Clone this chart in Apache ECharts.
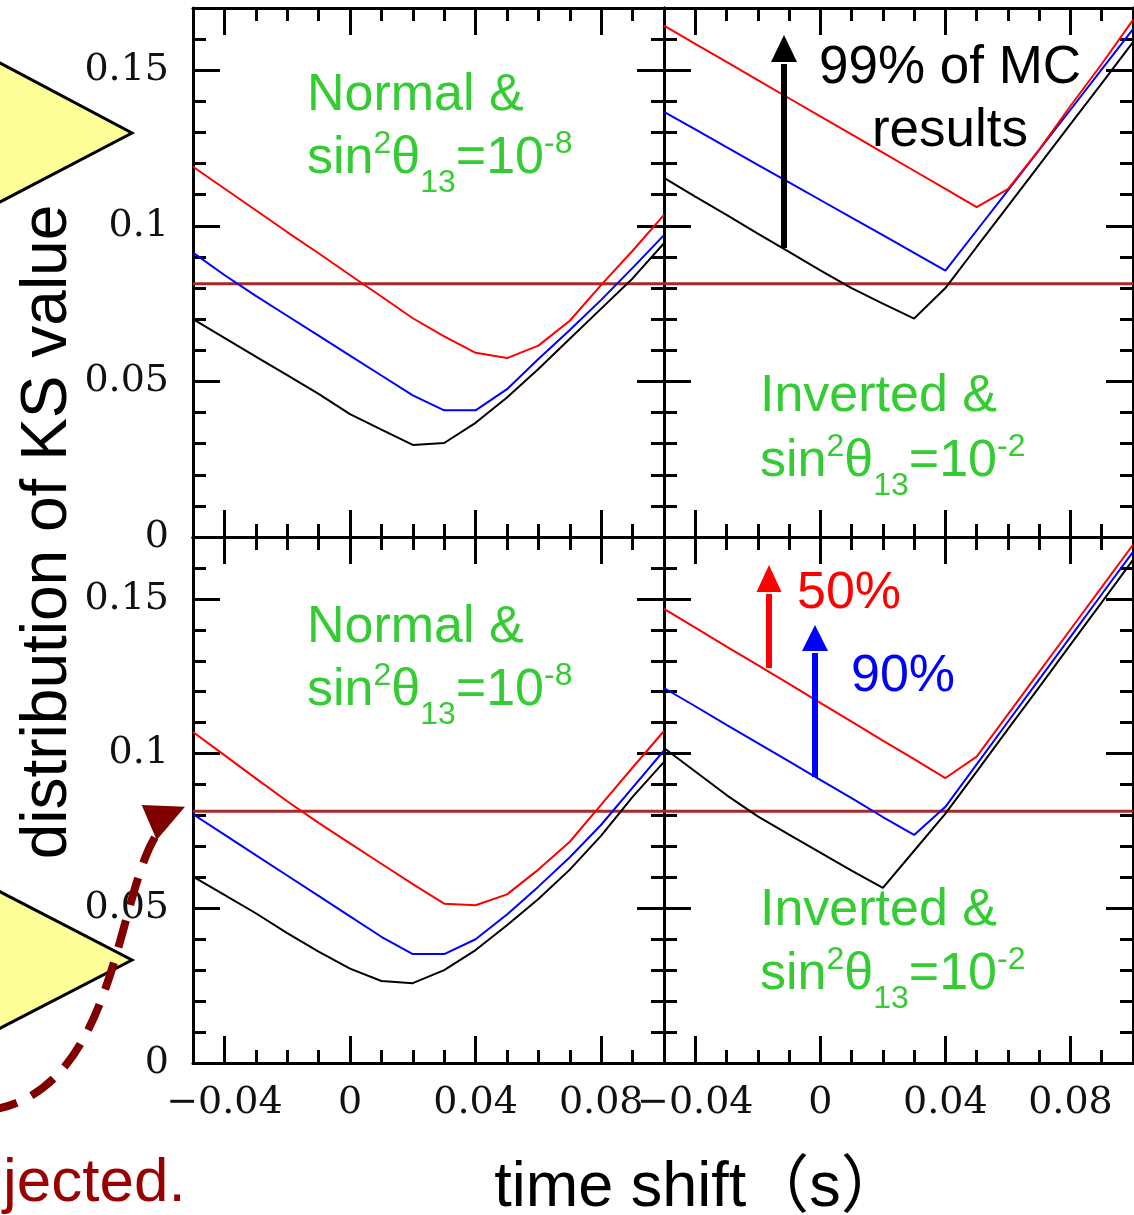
<!DOCTYPE html>
<html><head><meta charset="utf-8">
<script src="https://cdn.jsdelivr.net/npm/echarts@6/dist/echarts.min.js"></script>
<style>html,body{margin:0;padding:0;background:#fff}#c{width:1134px;height:1215px}</style>
</head><body><div id="c"></div><script>
// ---- data ----
const timeShift = [-0.05,-0.04,-0.03,-0.02,-0.01,0,0.01,0.02,0.03,0.04,0.05,0.06,0.07,0.08,0.09,0.1];
// top-left: Normal & sin^2θ13=1e-8
const tlRed   = [0.119,0.112,0.105,0.098,0.0912,0.0842,0.0773,0.0703,0.0645,0.0592,0.0575,0.0615,0.0695,0.081,0.092,0.1035];
const tlBlue  = [0.0914,0.0842,0.0775,0.0711,0.0647,0.0583,0.0519,0.0455,0.0407,0.0407,0.0475,0.0572,0.0665,0.0762,0.0865,0.097];
const tlBlack = [0.070,0.064,0.058,0.052,0.046,0.0395,0.0345,0.0296,0.0302,0.0367,0.0448,0.054,0.0637,0.0734,0.0831,0.0944];
// top-right: Inverted & sin^2θ13=1e-2
const trRed   = [0.1643,0.1585,0.1527,0.1468,0.141,0.1352,0.1294,0.1235,0.1177,0.1119,0.106,0.1118,0.1245,0.1385,0.152,0.1662];
const trBlue  = [0.1366,0.131,0.1253,0.1196,0.114,0.1083,0.1026,0.097,0.0913,0.0856,0.0985,0.1114,0.1244,0.1373,0.1503,0.1632];
const trBlack = [0.1154,0.1094,0.1035,0.0975,0.0916,0.0857,0.080,0.075,0.0702,0.080,0.0932,0.1063,0.1195,0.1327,0.1458,0.159];
// bottom-left
const blRed   = [0.107,0.0995,0.092,0.0846,0.0776,0.071,0.0644,0.0578,0.0515,0.051,0.0545,0.0625,0.0715,0.0835,0.0955,0.1073];
const blBlue  = [0.0804,0.0738,0.0672,0.0606,0.054,0.0474,0.0408,0.0352,0.0352,0.040,0.048,0.057,0.0665,0.077,0.089,0.101];
const blBlack = [0.0602,0.0543,0.0484,0.042,0.036,0.0305,0.0265,0.0258,0.030,0.0365,0.0445,0.053,0.0625,0.0735,0.086,0.0973];
// bottom-right
const brRed   = [0.1468,0.1407,0.1346,0.1286,0.1225,0.1164,0.1103,0.1042,0.0982,0.0921,0.099,0.1127,0.1264,0.1401,0.1538,0.1675];
const brBlue  = [0.1212,0.1153,0.1093,0.1034,0.0975,0.0915,0.0856,0.0795,0.0737,0.0828,0.0965,0.1103,0.124,0.1377,0.1515,0.1652];
const brBlack = [0.1018,0.0942,0.0866,0.0797,0.0738,0.068,0.0622,0.0566,0.0686,0.0806,0.0942,0.1079,0.1215,0.1352,0.1489,0.1626];
const threshold = 0.0814;
const xMajorTicks = [-0.04,0,0.04,0.08];
const xMinorTicks = [-0.03,-0.02,-0.01,0.01,0.02,0.03,0.05,0.06,0.07,0.09];
const yMajorTicks = [0.05,0.1,0.15];
const yLabelValues = [0,0.05,0.1,0.15];
const yMinorTicks = [0.01,0.02,0.03,0.04,0.06,0.07,0.08,0.09,0.11,0.12,0.13,0.14,0.16];
const seriesNames = ['50%','90%','99%'];
const seriesColors = ['#ff0000','#0000ff','#000000'];

// ---- layout ----
const panels = [
  {left:193, top:8,   width:471, height:529, data:[tlRed,tlBlue,tlBlack], xLab:false, yLab:true},
  {left:664, top:8,   width:469, height:529, data:[trRed,trBlue,trBlack], xLab:false, yLab:false},
  {left:193, top:537, width:471, height:526, data:[blRed,blBlue,blBlack], xLab:true,  yLab:true},
  {left:664, top:537, width:469, height:526, data:[brRed,brBlue,brBlack], xLab:true,  yLab:false}
];
const MAJ = 27, MIN = 13;
const tickStyle = {color:'#000', width:3};
const labelFont = {fontFamily:'DejaVu Serif', fontSize:38, color:'#111'};
const fmtX = v => (v < 0 ? '\u2212' + String(Math.abs(v)) : String(v));

const grid = [], xAxis = [], yAxis = [], series = [];
panels.forEach((p, k) => {
  grid.push({left:p.left, top:p.top, width:p.width, height:p.height, containLabel:false});
  const xb = {type:'value', gridIndex:k, min:-0.05, max:0.1, splitLine:{show:false}};
  const yb = {type:'value', gridIndex:k, min:0, max:0.17, splitLine:{show:false}};
  const line = show => ({show:show, onZero:false, lineStyle:{color:'#000', width:3}});
  xAxis.push(Object.assign({}, xb, {position:'bottom', axisLine:line(true),
    axisTick:{show:true, inside:true, length:MAJ, customValues:xMajorTicks, lineStyle:tickStyle},
    axisLabel:Object.assign({show:p.xLab, customValues:xMajorTicks, formatter:fmtX, margin:21}, labelFont)}));
  xAxis.push(Object.assign({}, xb, {position:'bottom', axisLine:line(false),
    axisTick:{show:true, inside:true, length:MIN, customValues:xMinorTicks, lineStyle:tickStyle}, axisLabel:{show:false}}));
  xAxis.push(Object.assign({}, xb, {position:'top', axisLine:line(true),
    axisTick:{show:true, inside:true, length:MAJ, customValues:xMajorTicks, lineStyle:tickStyle}, axisLabel:{show:false}}));
  xAxis.push(Object.assign({}, xb, {position:'top', axisLine:line(false),
    axisTick:{show:true, inside:true, length:MIN, customValues:xMinorTicks, lineStyle:tickStyle}, axisLabel:{show:false}}));
  yAxis.push(Object.assign({}, yb, {position:'left', axisLine:line(true),
    axisTick:{show:true, inside:true, length:MAJ, customValues:yMajorTicks, lineStyle:tickStyle},
    axisLabel:Object.assign({show:p.yLab, customValues:yLabelValues, formatter:v=>String(v), margin:24}, labelFont)}));
  yAxis.push(Object.assign({}, yb, {position:'left', axisLine:line(false),
    axisTick:{show:true, inside:true, length:MIN, customValues:yMinorTicks, lineStyle:tickStyle}, axisLabel:{show:false}}));
  yAxis.push(Object.assign({}, yb, {position:'right', axisLine:line(true),
    axisTick:{show:true, inside:true, length:MAJ, customValues:yMajorTicks, lineStyle:tickStyle}, axisLabel:{show:false}}));
  yAxis.push(Object.assign({}, yb, {position:'right', axisLine:line(false),
    axisTick:{show:true, inside:true, length:MIN, customValues:yMinorTicks, lineStyle:tickStyle}, axisLabel:{show:false}}));

  series.push({type:'line', name:'threshold', xAxisIndex:4*k, yAxisIndex:4*k, symbol:'none',
    data:[[timeShift[0], threshold],[timeShift[timeShift.length-1], threshold]],
    lineStyle:{color:'#a52a2a', width:3}, z:3, animation:false, silent:true});
  [2,1,0].forEach(j => {
    series.push({type:'line', name:seriesNames[j], xAxisIndex:4*k, yAxisIndex:4*k, symbol:'none', showSymbol:false,
      data:timeShift.map((x,i)=>[x, p.data[j][i]]), clip:true,
      lineStyle:{color:seriesColors[j], width:2}, itemStyle:{color:seriesColors[j]}, z:4, animation:false, silent:true});
  });
});

// ---- annotations ----
const GREEN = '#33cc33';
const SANS = 'Liberation Sans, Arial, sans-serif';
function plain(x, y, text, color, size, align, extra) {
  return Object.assign({type:'text', x:x, y:y, z:100, style:{text:text, fill:color, fontSize:size, fontFamily:SANS,
    align:align||'left', verticalAlign:'middle'}}, extra||{});
}
function sinLine(x, y, exp) {
  return {type:'text', x:x, y:y, z:100, style:{
    text:'{n|sin}{sup|2}{n|\u03b8}{sub|13}{n|=10}{sup|' + exp + '}',
    align:'left', verticalAlign:'middle', fontFamily:SANS, fill:GREEN,
    rich:{
      n:{fontSize:52, lineHeight:80, fontFamily:SANS, fill:GREEN},
      sup:{fontSize:32, lineHeight:40, padding:[9,0,0,0], verticalAlign:'top', fontFamily:SANS, fill:GREEN},
      sub:{fontSize:32, lineHeight:38, verticalAlign:'bottom', fontFamily:SANS, fill:GREEN}
    }}};
}
function arrow(x, yFrom, yBase, yTip, half, color) {
  return [
    {type:'line', z:90, shape:{x1:x, y1:yFrom, x2:x, y2:yBase+2}, style:{stroke:color, lineWidth:6}},
    {type:'polygon', z:90, shape:{points:[[x, yTip],[x-half, yBase],[x+half, yBase]]}, style:{fill:color}}
  ];
}
const DARKRED = '#800000';
const graphic = [
  // left cropped yellow arrows
  {type:'polygon', z:80, shape:{points:[[-6,59.8],[132,133],[-6,205.2]]}, style:{fill:'#ffff99', stroke:'#000', lineWidth:3}},
  {type:'polygon', z:80, shape:{points:[[-6,888.6],[132,960],[-6,1031.3]]}, style:{fill:'#ffff99', stroke:'#000', lineWidth:3}},
  // dashed dark-red curved arrow
  {type:'bezierCurve', z:85, shape:{x1:-10, y1:1110, cpx1:125, cpy1:1090, cpx2:115, cpy2:870, x2:166, y2:823},
    style:{stroke:DARKRED, lineWidth:8, lineDash:[28,16], fill:null}},
  {type:'polygon', z:85, shape:{points:[[141.7,805],[185,806.7],[156.7,840]]}, style:{fill:DARKRED}},
  plain(3, 1183.5, 'jected.', '#990000', 62, 'left'),
  // axis titles
  plain(48, 532, 'distribution of KS value', '#000', 64, 'center', {rotation:Math.PI/2}),
  {type:'text', x:699, y:1189, z:100, style:{text:'time shift\uff08s\uff09', fill:'#000', fontSize:63,
    fontFamily:'Liberation Sans, Noto Sans CJK JP, sans-serif', align:'center', verticalAlign:'middle'}},
  // panel labels
  plain(307, 95.6, 'Normal &', GREEN, 52, 'left'),
  sinLine(307, 159, '-8'),
  plain(760, 397, 'Inverted &', GREEN, 52, 'left'),
  sinLine(760, 462, '-2'),
  plain(307, 627.7, 'Normal &', GREEN, 52, 'left'),
  sinLine(307, 691, '-8'),
  plain(760, 911, 'Inverted &', GREEN, 52, 'left'),
  sinLine(760, 975, '-2'),
  {type:'text', x:950, y:99.5, z:100, style:{text:'99% of MC\nresults', fill:'#000', fontSize:53, lineHeight:63,
    fontFamily:SANS, align:'center', verticalAlign:'middle'}},
  plain(797, 594, '50%', '#ff0000', 52, 'left'),
  plain(851, 677, '90%', '#0000ff', 52, 'left')
].concat(arrow(784, 248, 62, 35, 13, '#000'))
 .concat(arrow(769, 668, 592, 565, 12.5, '#ff0000'))
 .concat(arrow(815, 777, 651, 625, 13, '#0000ff'));

const chart = echarts.init(document.getElementById('c'), null, {renderer:'canvas'});
chart.setOption({animation:false, backgroundColor:'#fff', grid:grid, xAxis:xAxis, yAxis:yAxis, series:series, graphic:graphic});
</script></body></html>
